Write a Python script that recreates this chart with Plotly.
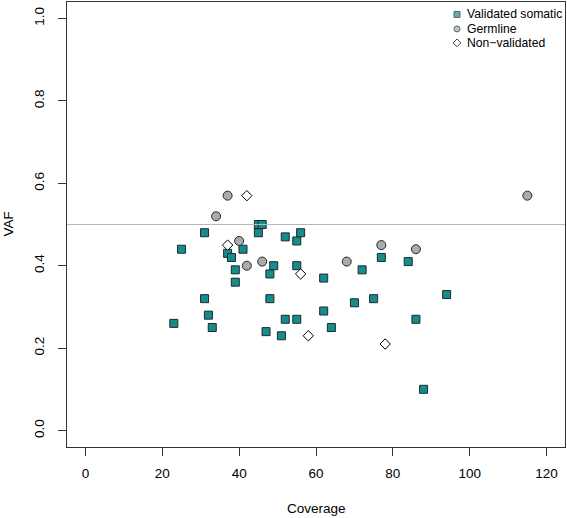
import plotly.graph_objects as go

# ---- data ----
som_cov = [45, 46, 31, 45, 52, 56, 55, 25, 41, 37, 38, 49, 55, 39, 48, 39, 31, 48,
           70, 62, 32, 23, 33, 52, 55, 47, 51, 64, 77, 84, 72, 62, 94, 75, 86, 88]
som_vaf = [0.50, 0.50, 0.48, 0.48, 0.47, 0.48, 0.46, 0.44, 0.44, 0.43, 0.42, 0.40, 0.40, 0.39, 0.38, 0.36, 0.32, 0.32,
           0.31, 0.29, 0.28, 0.26, 0.25, 0.27, 0.27, 0.24, 0.23, 0.25, 0.42, 0.41, 0.39, 0.37, 0.33, 0.32, 0.27, 0.10]

germ_cov = [37, 34, 40, 42, 46, 77, 86, 68, 115]
germ_vaf = [0.57, 0.52, 0.46, 0.40, 0.41, 0.45, 0.44, 0.41, 0.57]

nonval_cov = [42, 37, 56, 58, 78]
nonval_vaf = [0.57, 0.45, 0.38, 0.23, 0.21]

legend_labels = ["Validated somatic", "Germline", "Non\u2212validated"]
x_ticks = [0, 20, 40, 60, 80, 100, 120]
y_ticks = [0.0, 0.2, 0.4, 0.6, 0.8, 1.0]
ref_line = 0.5

# ---- styles ----
FONT = "Liberation Sans, Arial, Helvetica, sans-serif"
TEAL = "#178c8c"
EDGE = "#1b2b2b"
GRAY = "#ababab"
AXC = "#333333"

fig = go.Figure()

fig.add_trace(go.Scatter(x=som_cov, y=som_vaf, mode="markers", name=legend_labels[0],
                         marker=dict(symbol="square", size=8, color=TEAL,
                                     line=dict(color=EDGE, width=1)), showlegend=False))
fig.add_trace(go.Scatter(x=germ_cov, y=germ_vaf, mode="markers", name=legend_labels[1],
                         marker=dict(symbol="circle", size=9, color=GRAY,
                                     line=dict(color=EDGE, width=1)), showlegend=False))
fig.add_trace(go.Scatter(x=nonval_cov, y=nonval_vaf, mode="markers", name=legend_labels[2],
                         marker=dict(symbol="diamond", size=8, color="white",
                                     line=dict(color="black", width=1)), showlegend=False))

# custom legend on an overlay axis in plot-area pixel units
W, H = 498, 446
leg_x = 390
leg_y = [12.5, 27, 41]
fig.add_trace(go.Scatter(x=[leg_x] * 3, y=leg_y, mode="markers", xaxis="x2", yaxis="y2",
                         showlegend=False, hoverinfo="skip",
                         marker=dict(symbol=["square", "circle", "diamond"], size=[6, 6, 6],
                                     color=[TEAL, GRAY, "white"],
                                     line=dict(color=[EDGE, EDGE, "black"], width=1))))
for lab, yy in zip(legend_labels, leg_y):
    fig.add_annotation(x=leg_x + 8, y=yy, xref="x2", yref="y2", text=lab, showarrow=False,
                       xanchor="left", yanchor="middle",
                       font=dict(family=FONT, size=12.2, color="black"))

fig.add_shape(type="line", xref="paper", yref="y", x0=0, x1=1, y0=ref_line, y1=ref_line,
              line=dict(color="#b8b8b8", width=1))

fig.update_layout(
    width=567, height=518,
    margin=dict(l=67, r=2, t=1.5, b=70.5),
    paper_bgcolor="white", plot_bgcolor="white",
    font=dict(family=FONT, size=13.5, color="black"),
    xaxis=dict(range=[-4.8, 124.8], tickvals=x_ticks, ticks="outside", ticklen=8,
               tickcolor=AXC, showline=True, linecolor=AXC, linewidth=1, mirror=True,
               showgrid=False, zeroline=False, ticklabelstandoff=6,
               tickfont=dict(family=FONT, size=13.5)),
    yaxis=dict(range=[-0.04, 1.04], tickvals=y_ticks, ticktext=[f"{v:.1f}" for v in y_ticks],
               ticks="outside", ticklen=8, tickangle=-90,
               tickcolor=AXC, showline=True, linecolor=AXC, linewidth=1, mirror=True,
               showgrid=False, zeroline=False, ticklabelstandoff=9,
               tickfont=dict(family=FONT, size=13.5)),
    xaxis2=dict(range=[0, W], overlaying="x", visible=False, showgrid=False),
    yaxis2=dict(range=[H, 0], overlaying="y", visible=False, showgrid=False),
    showlegend=False,
)

fig.add_annotation(text="Coverage", xref="paper", yref="paper", x=0.5, y=0, yshift=-61,
                   showarrow=False, xanchor="center", yanchor="middle",
                   font=dict(family=FONT, size=13.5))
fig.add_annotation(text="VAF", xref="paper", yref="paper", x=0, y=0.5, xshift=-59,
                   showarrow=False, xanchor="center", yanchor="middle", textangle=-90,
                   font=dict(family=FONT, size=13.5))

fig.write_html("out.html", config={"displayModeBar": False},
               post_script="document.body.style.margin='0';document.body.style.overflow='hidden';")
